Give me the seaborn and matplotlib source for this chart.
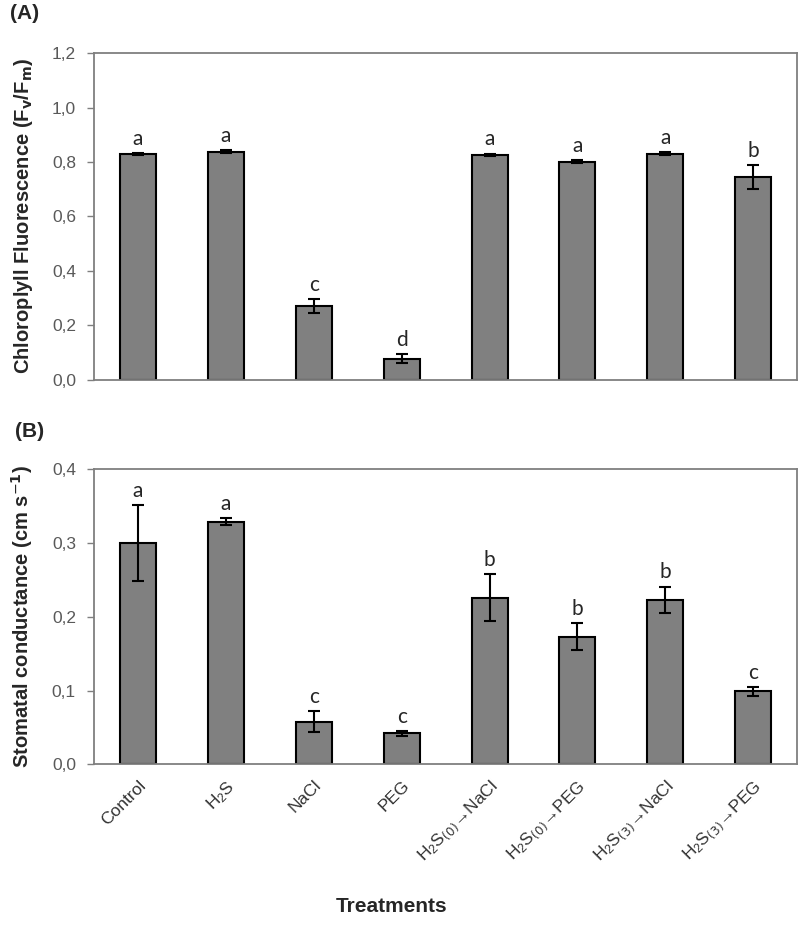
import numpy as np
import pandas as pd
import matplotlib
matplotlib.use("Agg")
import matplotlib.pyplot as plt
import seaborn as sns
from matplotlib.ticker import FuncFormatter

# Dados
tratamentos = ["Control", "H2S", "NaCl", "PEG",
               "H2S(0)->NaCl", "H2S(0)->PEG", "H2S(3)->NaCl", "H2S(3)->PEG"]
rotulos = ["Control", r"H$_2$S", "NaCl", "PEG",
           r"H$_2$S$_{\mathit{(0)}}$→NaCl",
           r"H$_2$S$_{\mathit{(0)}}$→PEG",
           r"H$_2$S$_{\mathit{(3)}}$→NaCl",
           r"H$_2$S$_{\mathit{(3)}}$→PEG"]

fvfm = [0.830, 0.838, 0.272, 0.078, 0.826, 0.801, 0.830, 0.745]
fvfm_err = [0.003, 0.006, 0.025, 0.016, 0.005, 0.006, 0.005, 0.045]
fvfm_letras = ["a", "a", "c", "d", "a", "a", "a", "b"]

gs = [0.300, 0.329, 0.058, 0.042, 0.226, 0.173, 0.223, 0.099]
gs_err = [0.051, 0.005, 0.014, 0.003, 0.032, 0.018, 0.018, 0.006]
gs_letras = ["a", "a", "c", "c", "b", "b", "b", "c"]

df = pd.DataFrame({"Tratamento": tratamentos, "FvFm": fvfm, "FvFm_err": fvfm_err,
                   "gs": gs, "gs_err": gs_err})

sns.set_style("white")
plt.rcParams["font.family"] = ["Liberation Sans", "DejaVu Sans"]
plt.rcParams["mathtext.default"] = "regular"

fig = plt.figure(figsize=(8, 9.31), dpi=100)
axA = fig.add_axes([0.1175, 0.592, 0.879, 0.351])
axB = fig.add_axes([0.1175, 0.179, 0.879, 0.317])

virgula = FuncFormatter(lambda v, p: f"{v:.1f}".replace(".", ","))


def painel(ax, col, err, letras, ymax, passo, ylabel):
    sns.barplot(data=df, x="Tratamento", y=col, ax=ax, color="#808080",
                saturation=1, width=0.41, edgecolor="black", linewidth=1.5)
    ax.errorbar(range(len(df)), df[col], yerr=df[err], fmt="none",
                ecolor="black", elinewidth=1.5, capsize=4, capthick=1.5)
    for i, (v, e, l) in enumerate(zip(df[col], df[err], letras)):
        ax.annotate(l, (i, v + e), xytext=(0, 3), textcoords="offset points",
                    ha="center", va="bottom", fontsize=15, family="Lato")
    ax.set_ylim(0, ymax)
    ax.set_xlim(-0.5, 7.5)
    ax.set_yticks(np.arange(0, ymax + passo / 2, passo))
    ax.yaxis.set_major_formatter(virgula)
    ax.set_xlabel("")
    ax.set_ylabel(ylabel, fontsize=14.5, fontweight="bold", labelpad=12)
    for s in ax.spines.values():
        s.set_color("#7f7f7f")
        s.set_linewidth(1.3)
    ax.tick_params(axis="y", left=True, direction="out", length=5, width=1,
                   color="#7f7f7f", labelcolor="#595959", labelsize=12.5, pad=8)
    ax.tick_params(axis="x", bottom=False)


painel(axA, "FvFm", "FvFm_err", fvfm_letras, 1.2, 0.2,
       r"Chloroplyll Fluorescence (F$_\mathbf{v}$/F$_\mathbf{m}$)")
painel(axB, "gs", "gs_err", gs_letras, 0.4, 0.1,
       r"Stomatal conductance (cm s$^{\mathsf{-}\mathbf{1}}$)")

axA.set_xticklabels([])
axB.set_xticks(range(len(rotulos)))
axB.set_xticklabels(rotulos, rotation=45, ha="right", rotation_mode="anchor",
                    fontsize=12.5, color="#333333")
axB.tick_params(axis="x", pad=6)

fig.text(0.012, 0.985, "(A)", fontsize=15, fontweight="bold", va="center")
fig.text(0.019, 0.536, "(B)", fontsize=15, fontweight="bold", va="center")
fig.text(0.49, 0.02, "Treatments", fontsize=15, fontweight="bold", ha="center")

fig.savefig("out.png", dpi=100)
